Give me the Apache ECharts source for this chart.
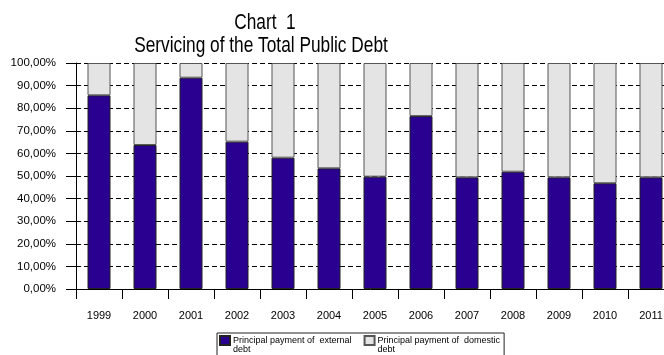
<!DOCTYPE html>
<html>
<head>
<meta charset="utf-8">
<script src="https://cdn.jsdelivr.net/npm/echarts@6/dist/echarts.min.js"></script>
<style>
  html, body { margin: 0; padding: 0; background: #fff; }
  #chart { width: 664px; height: 355px; }
</style>
</head>
<body>
<div id="chart"></div>
<script>
// Years on the category axis
const years = ['1999', '2000', '2001', '2002', '2003', '2004', '2005', '2006', '2007', '2008', '2009', '2010', '2011'];
// Share of principal payments going to external debt (%)
const externalShare = [85.7, 63.7, 93.5, 65.2, 58.1, 53.4, 49.7, 76.5, 49.4, 51.9, 49.4, 46.8, 49.4];
// Share going to domestic debt (%), the rest of each 100% column
const domesticShare = [14.3, 36.3, 6.5, 34.8, 41.9, 46.6, 50.3, 23.5, 50.6, 48.1, 50.6, 53.2, 50.6];
// Series names shown in the legend
const seriesNames = ['Principal payment of  external\ndebt', 'Principal payment of  domestic\ndebt'];
// Title lines
const titleLines = ['Chart  1', 'Servicing of the Total Public Debt'];

const FONT = 'Arial, "Liberation Sans", sans-serif';
const chart = echarts.init(document.getElementById('chart'), null, { renderer: 'canvas' });

// Square swatch in the upper half of a 10x18 box, so it lines up with the first text line
const swatchIcon = 'path://M0,0h10v9h-10z M0,18z';

chart.setOption({
  animation: false,
  backgroundColor: '#ffffff',
  textStyle: { fontFamily: FONT },
  graphic: [
    { type: 'text', x: 265, y: 11.5, scaleY: 1.3,
      style: { text: titleLines[0], font: '17.3px ' + FONT, fill: '#000', textAlign: 'center', textVerticalAlign: 'top' } },
    { type: 'text', x: 261, y: 35, scaleY: 1.3,
      style: { text: titleLines[1], font: '17.3px ' + FONT, fill: '#000', textAlign: 'center', textVerticalAlign: 'top' } }
  ],
  // the plot runs a little past the right edge, so the last column is clipped
  grid: { left: 76, top: 63, width: 598, bottom: 66, containLabel: false, outerBoundsMode: 'none' },
  legend: {
    left: 217, top: 333,
    orient: 'horizontal',
    itemWidth: 10, itemHeight: 18, itemGap: 12,
    icon: swatchIcon,
    padding: [2, 4, 4, 2],
    borderColor: '#222', borderWidth: 1,
    selectedMode: false,
    textStyle: { fontSize: 9, lineHeight: 9, color: '#000', fontFamily: FONT, padding: [0, 0, 0, -2] },
    data: seriesNames
  },
  xAxis: {
    type: 'category',
    data: years,
    boundaryGap: true,
    axisLine: { lineStyle: { color: '#000', width: 1 } },
    axisTick: { show: true, length: 10, lineStyle: { color: '#000' } },
    axisLabel: { fontSize: 11, color: '#000', margin: 21, fontFamily: FONT, interval: 0 }
  },
  yAxis: {
    type: 'value',
    min: 0, max: 100, interval: 10,
    axisLine: { show: true, lineStyle: { color: '#000', width: 1 } },
    axisTick: { show: true, length: 10, lineStyle: { color: '#000' } },
    axisLabel: {
      fontSize: 11.5, color: '#000', margin: 20, fontFamily: FONT,
      formatter: v => v.toFixed(2).replace('.', ',') + '%'
    },
    splitLine: { show: true, lineStyle: { color: '#000', width: 1, type: [5, 3] } }
  },
  series: [
    {
      name: seriesNames[0], type: 'bar', stack: 'total',
      data: externalShare,
      barWidth: '50%',
      itemStyle: { color: '#2a0090', borderColor: '#222', borderWidth: 1 }
    },
    {
      name: seriesNames[1], type: 'bar', stack: 'total',
      data: domesticShare,
      barWidth: '50%',
      itemStyle: { color: '#e4e4e4', borderColor: '#555', borderWidth: 1 }
    }
  ]
});
</script>
</body>
</html>
